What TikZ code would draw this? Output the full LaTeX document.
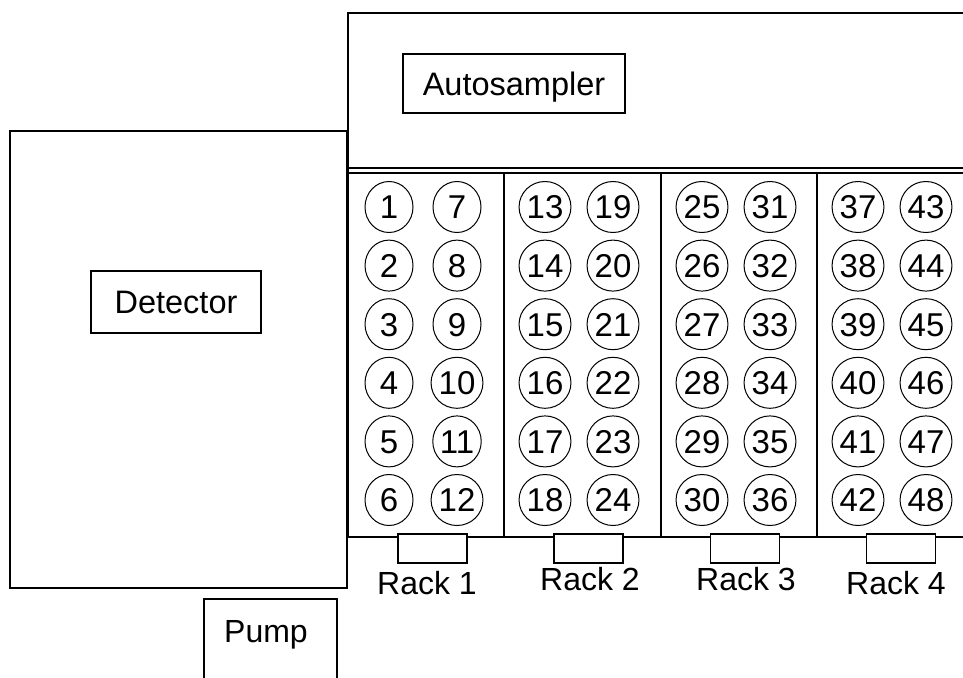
\documentclass[tikz,border=0pt]{standalone}
\usepackage{fontspec}
\setmainfont{Liberation Sans}
\usetikzlibrary{shapes.geometric}
\begin{document}
\begin{tikzpicture}[x=1pt,y=-1pt,
  box/.style={draw,line width=2.2pt},
  labelbox/.style={draw,line width=1.6pt,inner sep=0pt,font=\fontsize{32.5}{32.5}\selectfont,text height=23.3pt,text depth=0pt},
  vial/.style={draw,ellipse,line width=1pt,minimum width=48pt,minimum height=51pt,inner sep=0pt,font=\fontsize{33}{33}\selectfont,text height=23.6pt,text depth=0pt},
  tab/.style={draw,fill=white,line width=1.3pt,minimum width=69pt,minimum height=29pt,inner sep=0pt},
  txt/.style={inner sep=0pt,anchor=base,font=\fontsize{32}{32}\selectfont},
  thinline/.style={line width=1.3pt}]
\useasboundingbox (0,0) rectangle (963,677);
\clip (0,0) rectangle (963,677);
% coordinates
\coordinate (aTR) at (975,13);
\coordinate (aTL) at (348,13);
\coordinate (aBL) at (348,537);
\coordinate (aBR) at (975,537);
% autosampler frame
\draw[box] (aTR) -- (aTL) -- (aBL);
\draw[thinline] (348,168) -- (975,168);
\draw[thinline] (348,173) -- (975,173);
\draw[thinline] (aBL) -- (aBR);
\foreach \x in {504,661,817}{
  \draw[thinline] (\x,173) -- (\x,537);
}
% detector
\draw[box] (10,131) rectangle (347,588);
% pump
\draw[box] (204,690) -- (204,599) -- (337,599) -- (337,690);
\node[txt] (pump) at (266,642) {Pump};
% labels
\node[labelbox,minimum width=222pt,minimum height=59pt] (auto) at (514,83.5) {Autosampler};
\node[labelbox,minimum width=170pt,minimum height=62pt] (det) at (176,302) {Detector};
% vials
\foreach \r [count=\k from 0] in {348,504,661,817}{
  \foreach \c in {0,1}{
    \foreach \i in {1,...,6}{
      \pgfmathtruncatemacro{\n}{\k*12+\c*6+\i}
      \pgfmathsetmacro{\xx}{\r+41+\c*68}
      \pgfmathsetmacro{\yy}{207+58.6*(\i-1)}
      \node[vial] (v\n) at (\xx,\yy) {\n};
    }
  }
}
% rack tabs and labels
\node[tab] (t1) at (432.5,548.5) {};
\node[tab] (t2) at (588.5,548.5) {};
\node[tab] (t3) at (745,548.5) {};
\node[tab] (t4) at (901,548.5) {};
\node[txt] (l1) at (427,594) {Rack 1};
\node[txt] (l2) at (590,590) {Rack 2};
\node[txt] (l3) at (746,590) {Rack 3};
\node[txt] (l4) at (896,594) {Rack 4};
\end{tikzpicture}
\end{document}
